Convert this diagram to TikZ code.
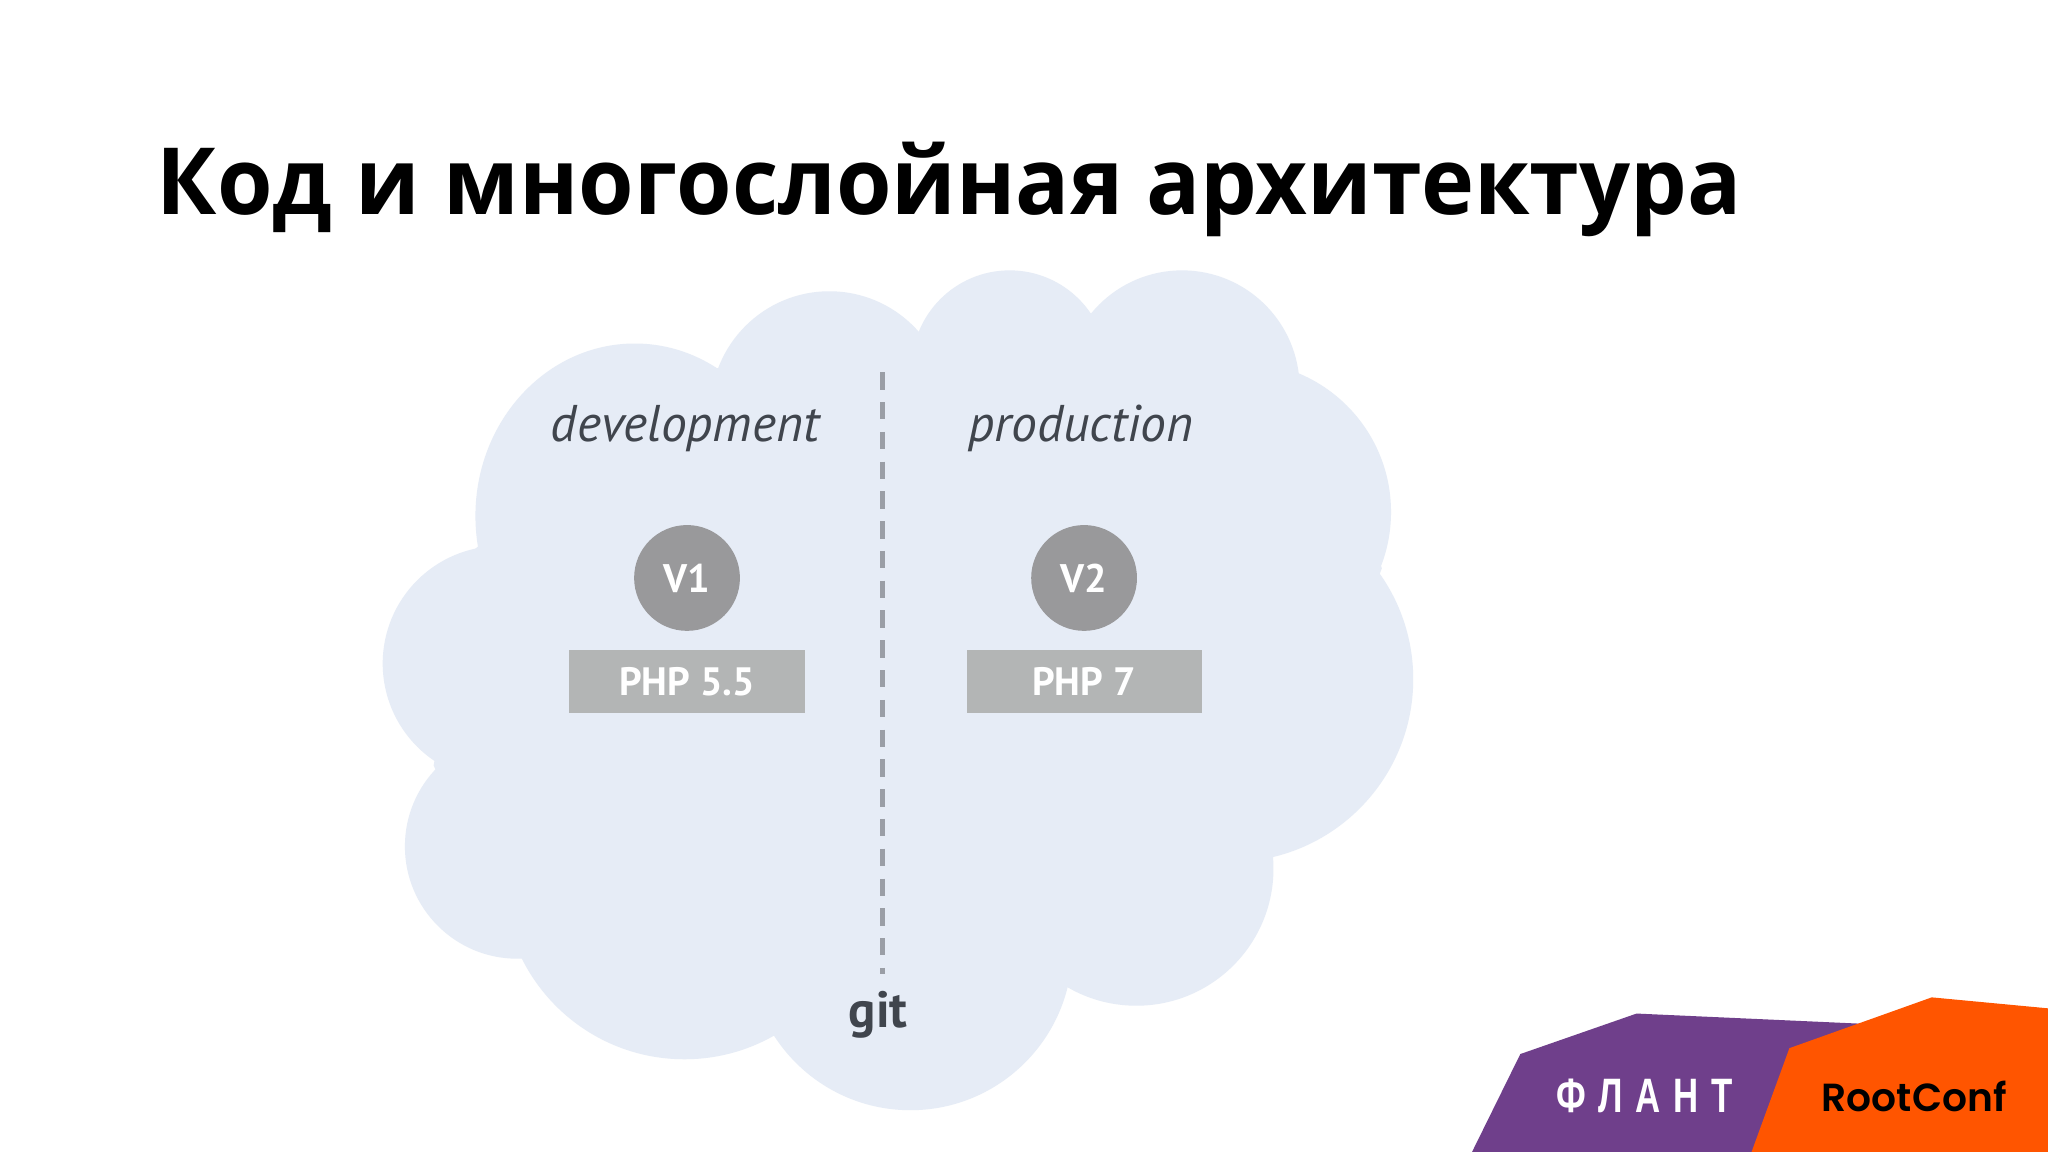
\documentclass[tikz,border=0pt]{standalone}
\usepackage{fontspec}
\setmainfont{PT Sans}
\newfontfamily\titlefont{Open Sans}
\newfontfamily\logofont{Liberation Sans}
\newfontfamily\rootfont{Poppins SemiBold}
\definecolor{cloudc}{HTML}{E6ECF6}
\definecolor{darktext}{HTML}{40454D}
\definecolor{circlec}{HTML}{99999B}
\definecolor{boxc}{HTML}{B3B5B5}
\definecolor{dashc}{HTML}{9A9EA6}
\definecolor{purplec}{HTML}{6F3F8B}
\definecolor{orangec}{HTML}{FF5500}
\tikzset{
  x=1pt,y=-1pt,
  env/.style={font=\fontsize{39.5}{39.5}\selectfont\itshape,text=darktext,anchor=base,inner sep=0pt},
  ver/.style={circle,fill=circlec,minimum size=81pt,inner sep=0pt,text=white,font=\fontsize{30.5}{31}\selectfont\bfseries},
  php/.style={rectangle,fill=boxc,minimum width=180pt,minimum height=48pt,inner sep=0pt,text=white,font=\fontsize{30.3}{31}\selectfont\bfseries},
}
\begin{document}
\begin{tikzpicture}
\useasboundingbox (0,0) rectangle (1568,882);
\fill[white] (0,0) rectangle (1568,882);
% cloud
\fill[cloudc] (549,282) -- (704,255) -- (838,240) -- (992,288) -- (1058,435) -- (976,655) -- (815,753) -- (594,790) -- (400,733) -- (332,586) -- (364,420) -- cycle;
\fill[cloudc] (486,395) ellipse [x radius=122, y radius=132];
\foreach \cx/\cy/\r in {635/314/91, 773/282/75, 905/297/90, 950/392/115, 942/520/140, 870/665/105, 697/726/124, 524/672/139, 396/648/86, 383/508/90}
  \fill[cloudc] (\cx,\cy) circle (\r);
% title
\node[anchor=base west,inner sep=0pt,text=black,xscale=0.968,font=\titlefont\fontsize{71}{71}\selectfont\bfseries] (title) at (120,164) {Код и многослойная архитектура};
% divider
\coordinate (dtop) at (675.5,285);
\coordinate (dbot) at (675.5,746);
\draw[dashc,line width=3.5pt,dash pattern=on 13.3pt off 9.5pt] (dtop) -- (dbot);
% labels
\node[env] (dev) at (524.5,338) {development};
\node[env] (prod) at (827.5,338) {production};
\node[ver] (v1) at (526,442.5) {\raisebox{-1pt}{V1}};
\node[ver] (v2) at (830,442.5) {\raisebox{-1pt}{V2}};
\node[php] (php1) at (526,522) {\raisebox{-0.5pt}{PHP 5.5}};
\node[php] (php2) at (830,522) {\raisebox{-0.5pt}{PHP 7}};
\node[anchor=base,inner sep=0pt,text=darktext,font=\fontsize{39}{39}\selectfont\bfseries] (git) at (672.5,787) {git};
% logos
\fill[purplec] (1127,882) -- (1164,807) -- (1253,776) -- (1430,784) -- (1430,882) -- cycle;
\fill[orangec] (1341,882) -- (1370,802.5) -- (1479,763.6) -- (1568,772) -- (1568,882) -- cycle;
\node[anchor=base,inner sep=0pt,text=white,xscale=0.72,font=\logofont\fontsize{37}{37}\selectfont\bfseries] (flant) at (1259,852) {Ф\hspace{0.36em}Л\hspace{0.36em}А\hspace{0.36em}Н\hspace{0.36em}Т};
\node[anchor=base,inner sep=0pt,text=black,font=\rootfont\fontsize{30}{30}\selectfont] (root) at (1465.5,851) {RootConf};
\end{tikzpicture}
\end{document}
